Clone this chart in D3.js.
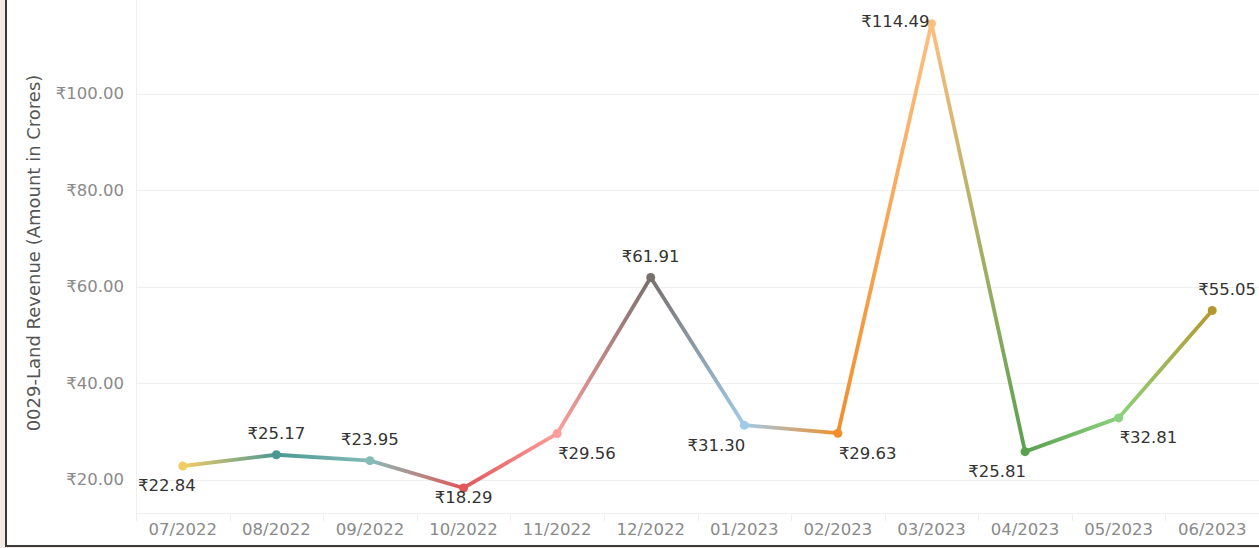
<!DOCTYPE html>
<html>
<head>
<meta charset="utf-8">
<script src="https://cdn.jsdelivr.net/npm/d3@7"></script>
<style>
  html, body { margin: 0; padding: 0; background: #ffffff; }
  svg { display: block; }
  text { font-family: "DejaVu Sans", "Noto Sans", sans-serif; }
</style>
</head>
<body>
<svg id="chart" width="1259" height="548"></svg>
<script>
// ---- data ----
const months = ["07/2022","08/2022","09/2022","10/2022","11/2022","12/2022","01/2023","02/2023","03/2023","04/2023","05/2023","06/2023"];
const revenue = [22.84, 25.17, 23.95, 18.29, 29.56, 61.91, 31.30, 29.63, 114.49, 25.81, 32.81, 55.05];
const yTicks = [20, 40, 60, 80, 100];
const pointColors = ["#F1CE63","#499894","#86BCB6","#E15759","#FF9D9A","#79706E","#A0CBE8","#F28E2B","#FFBE7D","#59A14F","#8CD17D","#B6992D"];
const labelPlacement = ["below-left","above","above","below","below-right","above","below-left","below-right","left","below-left","below-right","above-right"];
const yTitle = "0029-Land Revenue (Amount in Crores)";

// ---- layout ----
const W = 1259, H = 548;
const plotLeft = 136, plotRight = 1259, plotTop = 0, plotBottom = 513;
const FONT = '"DejaVu Sans", "Noto Sans", sans-serif';
const svg = d3.select("#chart");

// frame
svg.append("rect").attr("x", 0).attr("y", 0).attr("width", 5).attr("height", H).attr("fill", "#f4ebe5");
svg.append("rect").attr("x", 0).attr("y", 547).attr("width", W).attr("height", 1).attr("fill", "#f4ebe5");
svg.append("rect").attr("x", 5).attr("y", 0).attr("width", 2).attr("height", 547).attr("fill", "#3a3a3a");
svg.append("rect").attr("x", 5).attr("y", 545).attr("width", W - 5).attr("height", 2).attr("fill", "#3a3a3a");

const x = d3.scaleBand().domain(months).range([plotLeft, plotRight]).padding(0);
const y = d3.scaleLinear().domain([13.1, 119.4]).range([plotBottom, plotTop]);

const fmt = v => "₹" + d3.format(".2f")(v);

// gridlines
svg.append("g").selectAll("line").data(yTicks).join("line")
  .attr("x1", plotLeft).attr("x2", plotRight)
  .attr("y1", d => Math.round(y(d)) + 0.5).attr("y2", d => Math.round(y(d)) + 0.5)
  .attr("stroke", "#efefef").attr("stroke-width", 1);

// y axis labels
const yAxis = d3.axisLeft(y).tickValues(yTicks).tickFormat(fmt).tickSize(0).tickPadding(12);
const yg = svg.append("g").attr("transform", `translate(${plotLeft},0)`).call(yAxis);
yg.select(".domain").remove();
yg.selectAll("text").attr("fill", "#8a8a8a").style("font-size", "16.5px").style("font-family", FONT);

// left axis line and bottom axis line
svg.append("line").attr("x1", plotLeft + 0.5).attr("x2", plotLeft + 0.5).attr("y1", 0).attr("y2", 521)
  .attr("stroke", "#efefef");
svg.append("line").attr("x1", plotLeft).attr("x2", plotRight).attr("y1", plotBottom + 0.5).attr("y2", plotBottom + 0.5)
  .attr("stroke", "#efefef");

// x axis
const xAxis = d3.axisBottom(x).tickSize(0).tickPadding(10);
const xg = svg.append("g").attr("transform", `translate(0,${plotBottom})`).call(xAxis);
xg.select(".domain").remove();
xg.selectAll("text").attr("fill", "#8a8a8a").style("font-size", "16.5px").style("font-family", FONT);
// band separators
svg.append("g").selectAll("line").data(months.slice(1)).join("line")
  .attr("x1", d => Math.round(x(d)) + 0.5).attr("x2", d => Math.round(x(d)) + 0.5)
  .attr("y1", plotBottom).attr("y2", plotBottom + 8)
  .attr("stroke", "#efefef");

// y title
svg.append("text")
  .attr("transform", `translate(40,${253}) rotate(-90)`)
  .attr("text-anchor", "middle")
  .attr("fill", "#555")
  .style("font-size", "18px")
  .text(yTitle);

// points
const pts = months.map((m, i) => ({ m, v: revenue[i], c: pointColors[i], px: x(m) + x.bandwidth() / 2, py: y(revenue[i]), place: labelPlacement[i] }));

// gradient segments
const defs = svg.append("defs");
pts.slice(0, -1).forEach((p, i) => {
  const q = pts[i + 1];
  const g = defs.append("linearGradient").attr("id", "seg" + i)
    .attr("gradientUnits", "userSpaceOnUse")
    .attr("x1", p.px).attr("y1", p.py).attr("x2", q.px).attr("y2", q.py);
  g.append("stop").attr("offset", "0%").attr("stop-color", p.c);
  g.append("stop").attr("offset", "100%").attr("stop-color", q.c);
});
const lineGen = d3.line().x(d => d.px).y(d => d.py);
svg.append("g").selectAll("path").data(d3.pairs(pts)).join("path")
  .attr("d", d => lineGen(d))
  .attr("fill", "none")
  .attr("stroke", (d, i) => `url(#seg${i})`)
  .attr("stroke-width", 3.8)
  .attr("stroke-linecap", "round");

svg.append("g").selectAll("circle").data(pts).join("circle")
  .attr("cx", d => d.px).attr("cy", d => d.py).attr("r", 4.5)
  .attr("fill", d => d.c);

// labels
svg.append("g").selectAll("text").data(pts).join("text")
  .attr("fill", "#333")
  .style("font-size", "16.5px")
  .attr("dominant-baseline", "central")
  .text(d => fmt(d.v))
  .each(function(d) {
    const t = d3.select(this);
    const w = this.getComputedTextLength();
    let cx, cy;
    if (d.place === "above") { cx = d.px; cy = d.py - 21; }
    else if (d.place === "above-right") { cx = d.px + w / 2 - 14; cy = d.py - 21; }
    else if (d.place === "below") { cx = d.px; cy = d.py + 10; }
    else if (d.place === "below-left") { cx = d.px + 1 - w / 2; cy = d.py + 20; }
    else if (d.place === "below-right") { cx = d.px + 1 + w / 2; cy = d.py + 20; }
    else if (d.place === "left") { cx = d.px - 2 - w / 2; cy = d.py - 2; }
    // keep inside the plot
    cx = Math.max(cx, plotLeft + 2 + w / 2);
    t.attr("x", cx).attr("y", cy).attr("text-anchor", "middle");
  });
</script>
</body>
</html>
